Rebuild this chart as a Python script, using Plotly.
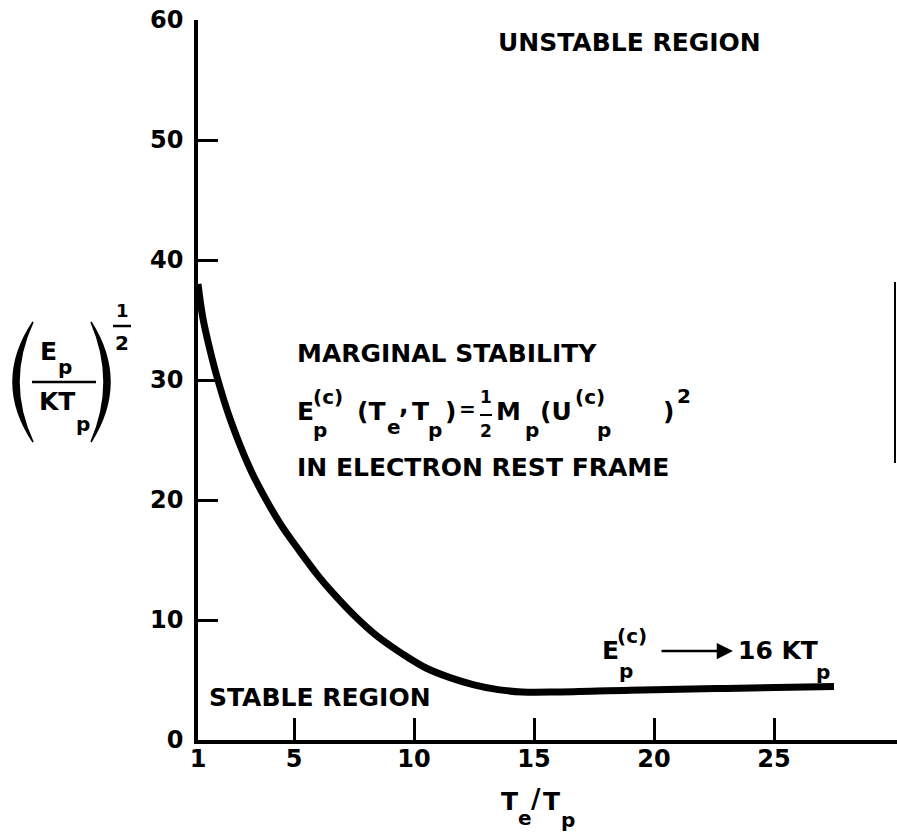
import plotly.graph_objects as go

# Data
te_over_tp = [1.0, 1.2, 1.5, 1.8, 2.33, 3.17, 3.9, 4.5, 5.25, 6.0, 6.6, 7.5, 8.5, 9.5,
              10.5, 11.5, 12.5, 13.5, 14.5, 16.0, 19.0, 23.0, 27.5]
energy_ratio = [38.0, 35.2, 32.5, 30.2, 26.8, 22.6, 19.8, 17.8, 15.7, 13.7, 12.3, 10.4,
                8.6, 7.2, 6.0, 5.2, 4.6, 4.2, 4.0, 4.0, 4.15, 4.3, 4.45]
x_ticks = [1, 5, 10, 15, 20, 25]
x_tick_text = ["1", "5", "10", "15", "20", "25"]
y_ticks = [0, 10, 20, 30, 40, 50, 60]

FONT = "DejaVu Sans"
BASE = 25
SUB = 20
# plot area in pixels
L, R, T, B = 198, 897, 20, 740
W, H = 897, 839


def P(px, py):
    return (px - L) / (R - L), (B - py) / (B - T)


fig = go.Figure()
fig.add_trace(go.Scatter(
    x=te_over_tp, y=energy_ratio, mode="lines",
    line=dict(color="black", width=7, shape="spline", smoothing=1.0),
    showlegend=False, hoverinfo="skip"))

annotations = []


def ann(text, px, py, size=BASE, xanchor="left", yanchor="middle"):
    x, y = P(px, py)
    annotations.append(dict(text=text, x=x, y=y, xref="paper", yref="paper",
                            xanchor=xanchor, yanchor=yanchor, showarrow=False,
                            font=dict(family=FONT, size=size, color="black", weight="bold"),
                            borderpad=0))


ann("UNSTABLE REGION", 497, 42)
ann("MARGINAL STABILITY", 296, 353)
# equation line
ann("E", 296, 411)
ann("p", 312, 430, size=SUB)
ann("(c)", 312, 397, size=SUB)
ann("(T", 356, 411)
ann("e", 386, 427, size=SUB)
ann(",", 398, 404)
ann("T", 411, 411)
ann("p", 427, 430, size=SUB)
ann(")", 444, 411)
ann("=", 458, 409, size=20)
ann("1", 486, 397, size=17, xanchor="center")
ann("2", 486, 431, size=17, xanchor="center")
ann("M", 495, 411)
ann("p", 524, 430, size=SUB)
ann("(U", 539, 411)
ann("(c)", 574, 397, size=SUB)
ann("p", 596, 430, size=SUB)
ann(")", 662, 411)
ann("2", 676, 396, size=SUB)
ann("IN ELECTRON REST FRAME", 296, 467)
ann("STABLE REGION", 208, 697)
# limit label
ann("E", 601, 650)
ann("(c)", 616, 636, size=SUB)
ann("p", 618, 671, size=SUB)
ann("16 KT", 737, 650)
ann("p", 815, 672, size=SUB)
# x title
ann("T", 500, 801)
ann("e", 517, 818, size=SUB)
ann("/", 530, 799, size=26)
ann("T", 542, 801)
ann("p", 560, 820, size=SUB)
# y title
ann("E", 39, 351)
ann("p", 57, 367, size=SUB)
ann("KT", 38, 401)
ann("p", 75, 424, size=SUB)
ann("1", 122, 310, size=18, xanchor="center")
ann("2", 122, 343, size=SUB, xanchor="center")

# arrow in the limit label
hx, hy = P(733, 651)
annotations.append(dict(x=hx, y=hy, xref="paper", yref="paper", ax=-73, ay=0,
                        text="", showarrow=True, arrowhead=2, arrowsize=1.3,
                        arrowwidth=2.5, arrowcolor="black"))

shapes = []


def hline(px0, px1, py, width=2.5):
    x0, y0 = P(px0, py)
    x1, _ = P(px1, py)
    shapes.append(dict(type="line", xref="paper", yref="paper", x0=x0, x1=x1,
                       y0=y0, y1=y0, line=dict(color="black", width=width)))


hline(480, 492, 415, 2)      # 1/2 in the equation
hline(32, 96, 382, 2.5)      # y-title fraction
hline(113, 131, 326, 2.5)    # exponent 1/2


def paren(xtop, outer_c, inner_c, ytop=322, ybot=442):
    def pt(px, py):
        x, y = P(px, py)
        return f"{x:.5f},{y:.5f}"
    ymid = (ytop + ybot) / 2
    path = (f"M {pt(xtop, ytop)} Q {pt(outer_c, ymid)} {pt(xtop, ybot)} "
            f"Q {pt(inner_c, ymid)} {pt(xtop, ytop)} Z")
    shapes.append(dict(type="path", xref="paper", yref="paper", path=path,
                       fillcolor="black", line=dict(color="black", width=1.5)))


paren(33, -7, 5)
paren(91, 129, 117)

# scan edge mark on the right
sx, sy0 = P(895, 282)
_, sy1 = P(895, 463)
shapes.append(dict(type="line", xref="paper", yref="paper", x0=sx, x1=sx,
                   y0=sy0, y1=sy1, line=dict(color="black", width=2)))

TICKFONT = dict(family=FONT, size=24, color="black", weight="bold")
fig.update_layout(
    width=W, height=H,
    margin=dict(l=L, r=W - R, t=T, b=H - B),
    paper_bgcolor="white", plot_bgcolor="white",
    font=dict(family=FONT, color="black"),
    annotations=annotations, shapes=shapes,
    xaxis=dict(range=[1, 30.125], tickvals=x_ticks, ticktext=x_tick_text,
               ticks="inside", ticklen=22, tickwidth=2.5, tickcolor="black",
               showline=True, linecolor="black", linewidth=3.5,
               showgrid=False, zeroline=False, ticklabelstandoff=-6,
               tickfont=TICKFONT),
    yaxis=dict(range=[0, 60], tickvals=y_ticks,
               ticks="inside", ticklen=20, tickwidth=2.5, tickcolor="black",
               showline=True, linecolor="black", linewidth=3.5,
               showgrid=False, zeroline=False, ticklabelstandoff=6,
               tickfont=TICKFONT),
)

fig.write_html("out.html", config={"displayModeBar": False},
               post_script="document.body.style.margin='0';document.body.style.padding='0';")
